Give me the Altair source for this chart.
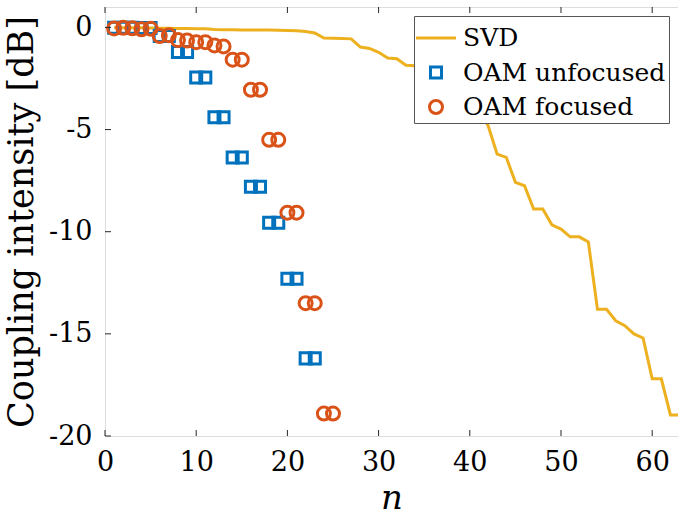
import altair as alt
import pandas as pd

# ---- data -------------------------------------------------------------
series_names = ["SVD", "OAM unfocused", "OAM focused"]
series_colors = ["#EDB120", "#0072BD", "#D95319"]

n_svd = list(range(1, 64))
svd_db = [
    0.0, -0.01, -0.02, -0.02, -0.03, -0.04, -0.04, -0.05, -0.05, -0.06,
    -0.06, -0.10, -0.11, -0.11, -0.12, -0.12, -0.13, -0.13, -0.14, -0.15,
    -0.16, -0.20, -0.27, -0.52, -0.53, -0.54, -0.56, -0.96, -1.03, -1.22,
    -1.50, -1.53, -1.85, -1.87, -2.10, -2.35, -2.60, -3.00, -3.15, -3.50,
    -4.10, -4.80, -6.20, -6.36, -7.58, -7.75, -8.89, -8.89, -9.66, -9.87,
    -10.25, -10.25, -10.50, -13.80, -13.80, -14.36, -14.60, -15.00, -15.20, -17.20,
    -17.20, -18.97, -18.97,
]

n_unfocused = list(range(1, 24))
unfocused_db = [
    -0.02, -0.02, -0.02, -0.03, -0.03, -0.42, -0.42, -1.20, -1.20, -2.45,
    -2.45, -4.40, -4.40, -6.37, -6.37, -7.80, -7.80, -9.56, -9.56, -12.30,
    -12.30, -16.20, -16.20,
]

n_focused = list(range(1, 26))
focused_db = [
    -0.05, -0.02, -0.04, -0.09, -0.06, -0.42, -0.38, -0.62, -0.64, -0.72,
    -0.72, -0.88, -0.93, -1.58, -1.58, -3.05, -3.05, -5.50, -5.50, -9.07,
    -9.07, -13.50, -13.50, -18.90, -18.90,
]

x_ticks = [0, 10, 20, 30, 40, 50, 60]
y_ticks = [0, -5, -10, -15, -20]

# ---- frames -----------------------------------------------------------
svd_df = pd.DataFrame({"n": n_svd, "db": svd_db, "series": "SVD"})
pts_df = pd.concat([
    pd.DataFrame({"n": n_unfocused, "db": unfocused_db, "series": "OAM unfocused"}),
    pd.DataFrame({"n": n_focused, "db": focused_db, "series": "OAM focused"}),
], ignore_index=True)
xt_df = pd.DataFrame({"n": x_ticks})
yt_df = pd.DataFrame({"db": y_ticks})

# ---- geometry ---------------------------------------------------------
W, H = 573, 429
SYM = 1200  # symbol area; custom paths below are drawn in [-1,1] * sqrt(SYM)/2
line_path = "M-1.155,0L1.155,0"
square_path = "M-0.318,-0.318L0.318,-0.318L0.318,0.318L-0.318,0.318Z"
circle_path = "M0.375,0A0.375,0.375,0,1,1,-0.375,0A0.375,0.375,0,1,1,0.375,0Z"

FONT = "DejaVu Serif"
AX = "#262626"

x_scale = alt.Scale(domain=[0, 62.83], nice=False, zero=False)
y_scale = alt.Scale(domain=[-20, 1], nice=False, zero=False)

x_axis = alt.Axis(
    values=x_ticks, ticks=False, domain=False, grid=False,
    labelFont=FONT, labelFontSize=27, labelColor="#000", labelPadding=13,
    labelFlush=False,
    title="n", titleFont=FONT, titleFontSize=34, titleFontStyle="italic",
    titleFontWeight="normal", titleColor="#000", titlePadding=6,
)
y_axis = alt.Axis(
    values=y_ticks, ticks=False, domain=False, grid=False,
    labelFont=FONT, labelFontSize=27, labelColor="#000", labelPadding=13,
    labelExpr="'' + datum.value", labelFlush=False,
    title="Coupling intensity [dB]", titleFont=FONT, titleFontSize=35,
    titleFontWeight="normal", titleColor="#000", titlePadding=9,
)

X = alt.X("n:Q", scale=x_scale, axis=x_axis)
Y = alt.Y("db:Q", scale=y_scale, axis=y_axis)

svd_line = alt.Chart(svd_df).mark_line(
    color=series_colors[0], strokeWidth=3, clip=True
).encode(x=X, y=Y)

legend = alt.Legend(
    title=None, orient="none", legendX=309, legendY=9,
    labelFont=FONT, labelFontSize=25, labelColor="#000", labelOffset=8,
    labelLimit=0,
    symbolSize=SYM, symbolStrokeWidth=3, symbolFillColor="transparent",
    fillColor="#ffffff", strokeColor="#555555", padding=3, rowPadding=2.5,
)

points = alt.Chart(pts_df).mark_point(
    filled=False, strokeWidth=3, size=SYM, opacity=1
).encode(
    x=X,
    y=Y,
    color=alt.Color("series:N", scale=alt.Scale(domain=series_names, range=series_colors),
                    legend=legend),
    shape=alt.Shape("series:N", scale=alt.Scale(domain=series_names,
                                                range=[line_path, square_path, circle_path]),
                    legend=legend),
    order=alt.Order("series:N", sort="descending"),
)

# inward-pointing tick marks on the box
tick_len = 6
x_ticks_bottom = alt.Chart(xt_df).mark_rule(color=AX, strokeWidth=1).encode(
    x=X, y=alt.value(H), y2=alt.value(H - tick_len))
x_ticks_top = alt.Chart(xt_df).mark_rule(color=AX, strokeWidth=1).encode(
    x=X, y=alt.value(0), y2=alt.value(tick_len))
y_ticks_left = alt.Chart(yt_df).mark_rule(color=AX, strokeWidth=1).encode(
    y=Y, x=alt.value(0), x2=alt.value(tick_len))

chart = alt.layer(
    svd_line, points, x_ticks_bottom, x_ticks_top, y_ticks_left
).properties(
    width=W, height=H,
    autosize=alt.AutoSizeParams(type="none"),
    padding={"left": 105, "top": 7, "right": 0, "bottom": 80},
).configure_view(
    stroke=AX, strokeWidth=1
).configure(background="#ffffff", font=FONT)

chart.save("out.html", embed_options={"renderer": "svg", "actions": False})
